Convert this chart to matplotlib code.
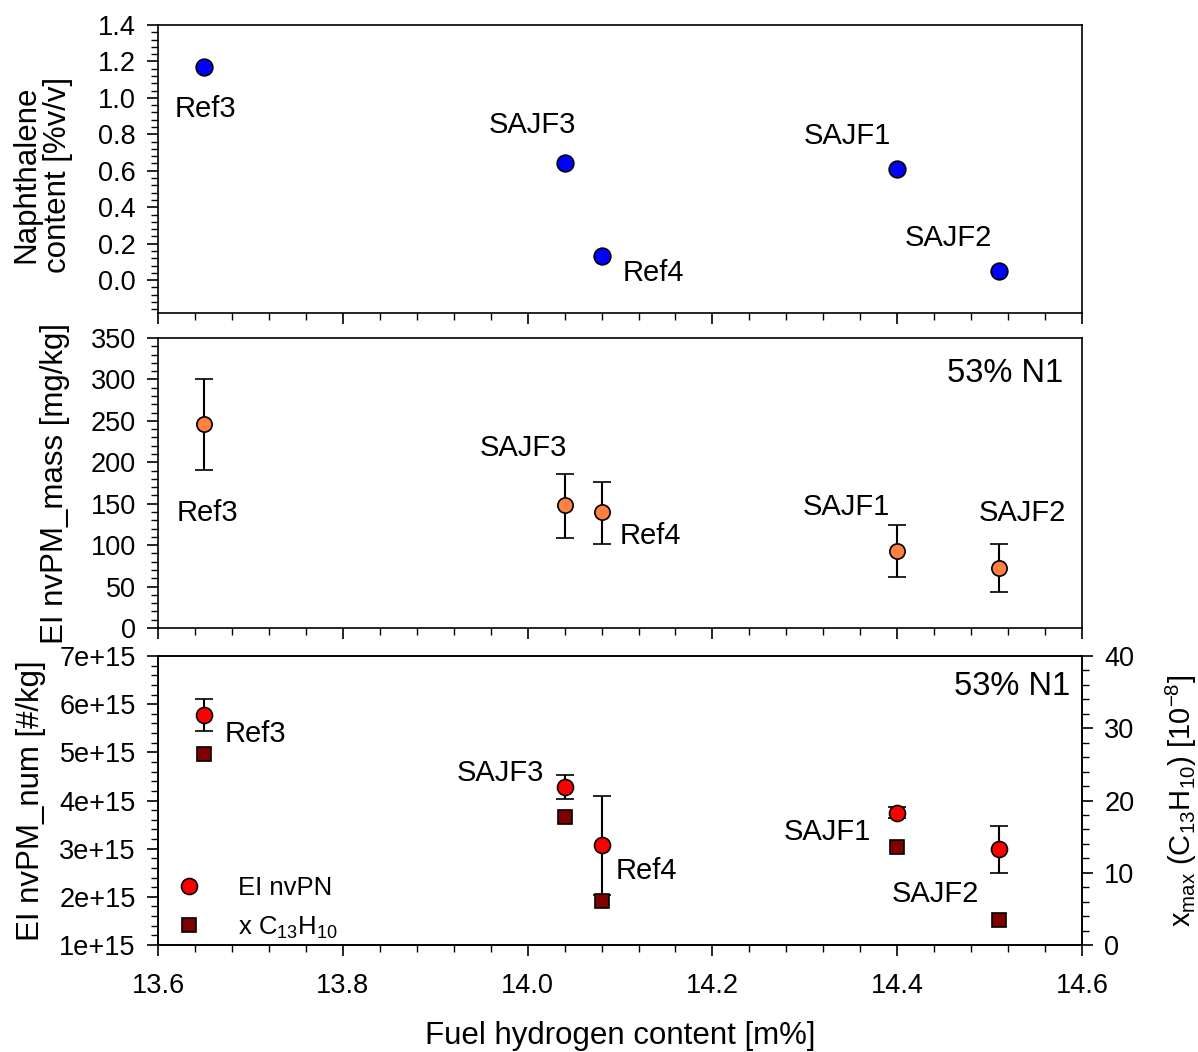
import matplotlib
matplotlib.use('Agg')
import matplotlib.pyplot as plt
from matplotlib.ticker import MultipleLocator, AutoMinorLocator, FuncFormatter
from matplotlib.lines import Line2D
from matplotlib import rcParams

rcParams['font.family'] = ['Liberation Sans', 'DejaVu Sans']
rcParams['mathtext.default'] = 'regular'
rcParams['axes.linewidth'] = 1.2
rcParams['xtick.direction'] = 'out'
rcParams['ytick.direction'] = 'out'

# data
fuels = ['Ref3', 'SAJF3', 'Ref4', 'SAJF1', 'SAJF2']
h_content = [13.65, 14.04, 14.08, 14.40, 14.51]
naph = [1.17, 0.64, 0.13, 0.61, 0.05]
ei_mass = [246, 148, 140, 93, 73]
ei_mass_lo = [191, 109, 102, 62, 44]
ei_mass_hi = [301, 186, 176, 124, 102]
ei_num = [5.78e15, 4.29e15, 3.08e15, 3.75e15, 2.99e15]
ei_num_lo = [5.45e15, 4.03e15, 2.04e15, 3.64e15, 2.49e15]
ei_num_hi = [6.10e15, 4.53e15, 4.10e15, 3.86e15, 3.47e15]
xmax = [26.5, 17.7, 6.1, 13.6, 3.5]

# label offsets (points) per panel
off_top = [(1, -30), (-23, 28), (37, -12), (-36, 24), (-36, 24)]
off_mid = [(2, -64), (-30, 41), (35, -17), (-37, 32), (17, 39)]
off_bot = [(37, -14), (-46, 10), (32, -19), (-50, -14), (-46, -32)]

fs_tick = 19.5
fs_lab = 22.5
fs_note = 21

fig = plt.figure(figsize=(11.98, 10.52), dpi=100)
left, width = 0.1319, 0.7713
ax1 = fig.add_axes([left, 0.7025, width, 0.2738])
ax2 = fig.add_axes([left, 0.4030, width, 0.2757])
ax3 = fig.add_axes([left, 0.1017, width, 0.2747])


def style(ax):
    ax.set_xlim(13.6, 14.6)
    ax.xaxis.set_major_locator(MultipleLocator(0.2))
    ax.xaxis.set_minor_locator(AutoMinorLocator(5))
    ax.yaxis.set_minor_locator(AutoMinorLocator(5))
    ax.tick_params(which='major', length=8, width=1.2, labelsize=fs_tick, pad=8)
    ax.tick_params(which='minor', length=5, width=1.0)
    ax.tick_params(axis='x', which='major', pad=12)


def annotate(ax, ys, offs):
    for name, x, y, o in zip(fuels, h_content, ys, offs):
        ax.annotate(name, (x, y), xytext=o, textcoords='offset points',
                    ha='center', va='center', fontsize=fs_note)


# top: naphthalene
style(ax1)
ax1.plot(h_content, naph, 'o', ms=12, mfc='#0000ff', mec='k', mew=1.2, ls='none')
ax1.set_ylim(-0.18, 1.4)
ax1.yaxis.set_major_locator(MultipleLocator(0.2))
ax1.yaxis.set_major_formatter(FuncFormatter(lambda v, p: f'{v:.1f}'))
ax1.tick_params(axis='x', labelbottom=False)
ax1.set_ylabel('Naphthalene\ncontent [%v/v]', fontsize=fs_lab, linespacing=1.05)
ax1.yaxis.set_label_coords(-0.092, 0.48)
annotate(ax1, naph, off_top)

# middle: EI mass
style(ax2)
yerr = [[m - l for m, l in zip(ei_mass, ei_mass_lo)],
        [h - m for m, h in zip(ei_mass, ei_mass_hi)]]
ax2.errorbar(h_content, ei_mass, yerr=yerr, fmt='o', ms=11, mfc='#ff8040',
             mec='k', mew=1.2, ecolor='k', elinewidth=1.5, capsize=6.5,
             capthick=1.5)
ax2.set_ylim(0, 350)
ax2.yaxis.set_major_locator(MultipleLocator(50))
ax2.tick_params(axis='x', labelbottom=False)
ax2.set_ylabel('EI nvPM_mass [mg/kg]', fontsize=fs_lab)
ax2.yaxis.set_label_coords(-0.095, 0.5)
ax2.text(0.917, 0.876, '53% N1', transform=ax2.transAxes, ha='center',
         va='center', fontsize=23.5)
annotate(ax2, ei_mass, off_mid)

# bottom: EI number + naphthalene-like species
style(ax3)
yerr = [[m - l for m, l in zip(ei_num, ei_num_lo)],
        [h - m for m, h in zip(ei_num, ei_num_hi)]]
ax3.errorbar(h_content, ei_num, yerr=yerr, fmt='o', ms=11.5, mfc='#ff0000',
             mec='k', mew=1.2, ecolor='k', elinewidth=1.5, capsize=6.5,
             capthick=1.5, zorder=3)
ax3.set_ylim(1e15, 7e15)
ax3.yaxis.set_major_locator(MultipleLocator(1e15))
ax3.yaxis.set_major_formatter(FuncFormatter(lambda v, p: f'{int(round(v / 1e15))}e+15'))
ax3.set_ylabel('EI nvPM_num [#/kg]', fontsize=fs_lab)
ax3.yaxis.set_label_coords(-0.121, 0.5)
ax3.set_xlabel('Fuel hydrogen content [m%]', fontsize=fs_lab, labelpad=16)
ax3.text(0.924, 0.896, '53% N1', transform=ax3.transAxes, ha='center',
         va='center', fontsize=23.5)
annotate(ax3, ei_num, off_bot)

ax3r = ax3.twinx()
ax3r.plot(h_content, xmax, 's', ms=9.5, mfc='#800000', mec='k', mew=1.2, ls='none')
ax3r.set_ylim(0, 40)
ax3r.yaxis.set_major_locator(MultipleLocator(10))
ax3r.yaxis.set_minor_locator(AutoMinorLocator(5))
ax3r.tick_params(which='major', length=8, width=1.2, labelsize=fs_tick, pad=8)
ax3r.tick_params(which='minor', length=5, width=1.0)
ax3r.set_ylabel('x$_{max}$ (C$_{13}$H$_{10}$) [10$^{-8}$]', fontsize=21)
ax3r.yaxis.set_label_coords(1.088, 0.5)

h1 = Line2D([], [], marker='o', ls='none', ms=11.5, mfc='#ff0000', mec='k', mew=1.2)
h2 = Line2D([], [], marker='s', ls='none', ms=9.5, mfc='#800000', mec='k', mew=1.2)
ax3.legend([h1, h2], ['EI nvPN', 'x C$_{13}$H$_{10}$'], loc='lower left',
           bbox_to_anchor=(-0.005, -0.065), frameon=False, fontsize=18.5,
           handletextpad=1.4, labelspacing=0.55, handlelength=1.0)

fig.savefig('out.png', dpi=100)
